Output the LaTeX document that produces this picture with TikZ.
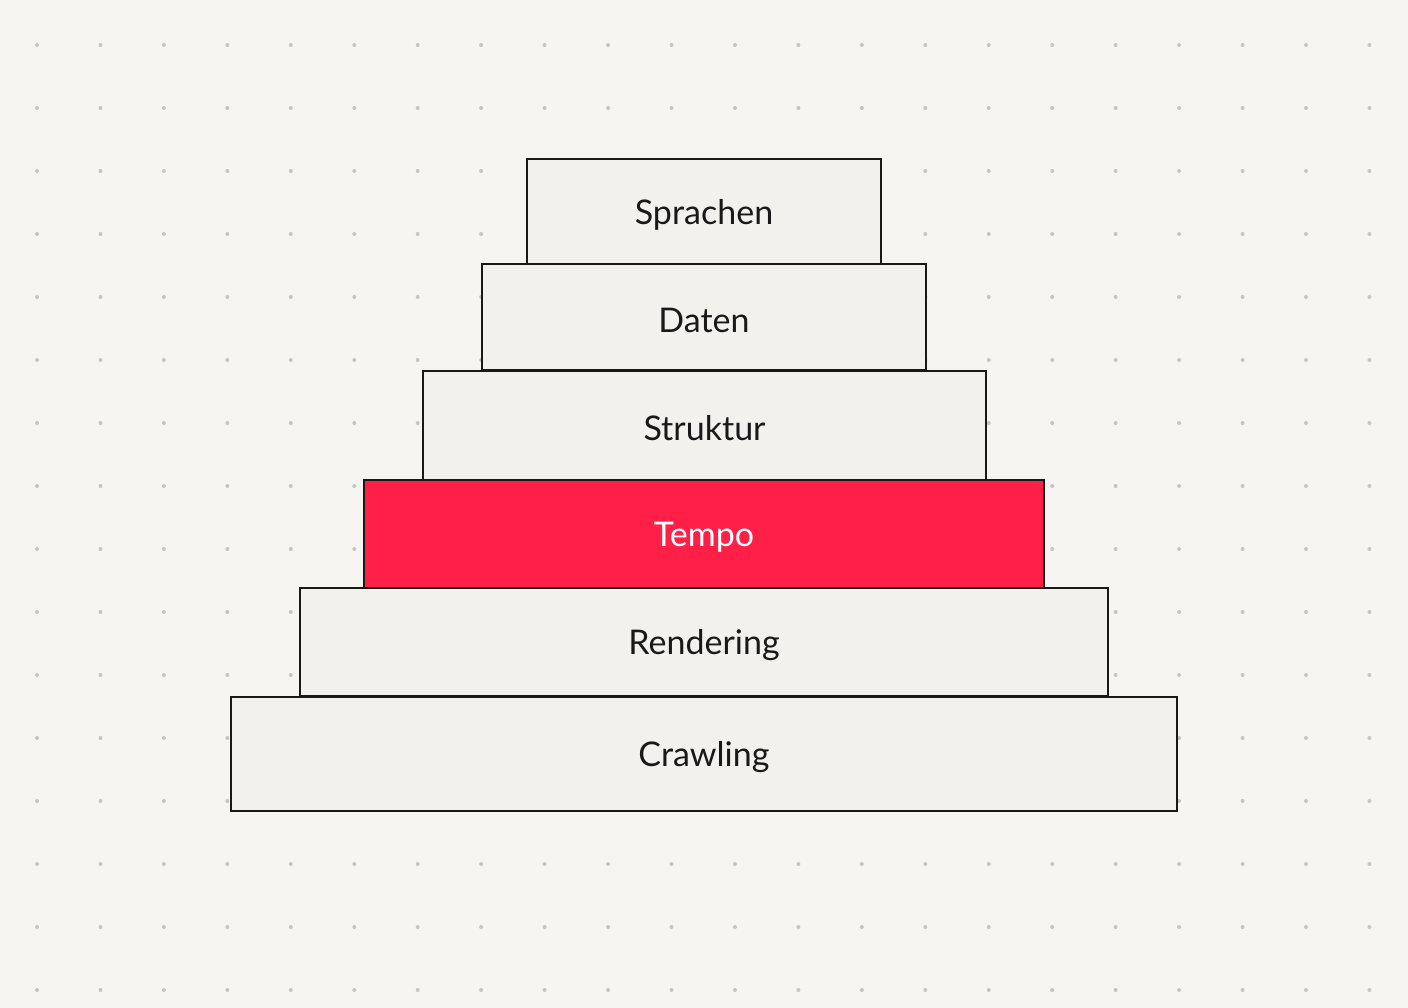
\documentclass[tikz,border=0pt]{standalone}
\usepackage{fontspec}
\setmainfont{Lato}
\definecolor{bg}{HTML}{F7F5F2}
\definecolor{boxf}{HTML}{F3F1EE}
\definecolor{hot}{HTML}{FF1F47}
\definecolor{dotc}{HTML}{C8C4BF}
\begin{document}
\begin{tikzpicture}[x=1pt,y=-1pt,
  lay/.style={draw=black!90,line width=1.6pt,fill=boxf,font=\fontsize{34}{38}\selectfont,text=black!90}]
\fill[bg] (0,0) rectangle (1408,1008);
\useasboundingbox (0,0) rectangle (1408,1008);
\foreach \i in {0,...,21}{\foreach \j in {0,...,15}{
  \fill[dotc] ({37+\i*63.45},{45+\j*63.0}) circle (2);}}
\draw[lay] (527,159) rectangle (881,264) node[midway,yshift=-3pt] (s) {Sprachen};
\draw[lay] (482,264) rectangle (926,370) node[midway,yshift=-3pt] (d) {Daten};
\draw[lay] (423,371) rectangle (986,480) node[midway,yshift=-3pt] (st) {Struktur};
\draw[lay,fill=hot,text=white] (364,480) rectangle (1044,588) node[midway,yshift=-3pt] (t) {Tempo};
\draw[lay] (300,588) rectangle (1108,696) node[midway,yshift=-3pt] (r) {Rendering};
\draw[lay] (231,697) rectangle (1177,811) node[midway,yshift=-3pt] (c) {Crawling};
\end{tikzpicture}
\end{document}
